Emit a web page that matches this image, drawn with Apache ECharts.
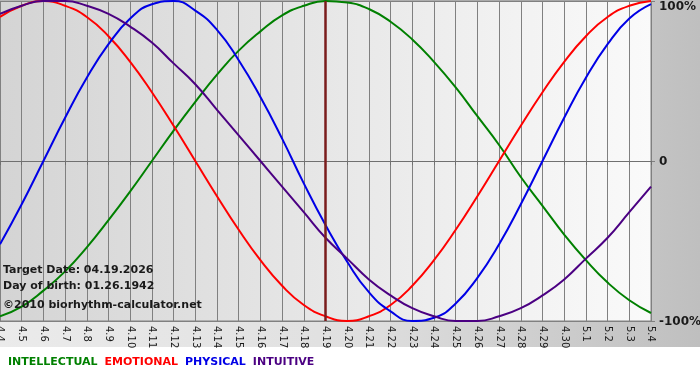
<!DOCTYPE html>
<html>
<head>
<meta charset="utf-8">
<script src="https://cdn.jsdelivr.net/npm/echarts@6/dist/echarts.min.js"></script>
<style>html,body{margin:0;padding:0;background:#fff}#c{width:700px;height:380px}</style>
</head>
<body>
<div id="c"></div>
<script>
const days = ['4.4','4.5','4.6','4.7','4.8','4.9','4.10','4.11','4.12','4.13','4.14','4.15','4.16','4.17','4.18','4.19','4.20','4.21','4.22','4.23','4.24','4.25','4.26','4.27','4.28','4.29','4.30','5.1','5.2','5.3','5.4'];
const intellectual = [-97,-91,-81,-69,-54,-37,-19,0,19,37,54,69,81,91,97,100,99,95,87,76,62,46,28,10,-10,-28,-46,-62,-76,-87,-95];
const emotional = [90,97,100,97,90,78,62,43,22,0,-22,-43,-62,-78,-90,-97,-100,-97,-90,-78,-62,-43,-22,0,22,43,62,78,90,97,100];
const physical = [-52,-27,0,27,52,73,89,98,100,94,82,63,40,14,-14,-40,-63,-82,-94,-100,-98,-89,-73,-52,-27,0,27,52,73,89,98];
const intuitive = [92,97,100,100,97,92,84,74,61,48,32,16,0,-16,-32,-48,-61,-74,-84,-92,-97,-100,-100,-97,-92,-84,-74,-61,-48,-32,-16];
const targetDay = '4.19';
const infoLines = ['Target Date: 04.19.2026','Day of birth: 01.26.1942','©2010 biorhythm-calculator.net'];
const seriesNames = ['INTELLECTUAL','EMOTIONAL','PHYSICAL','INTUITIVE'];
const colors = ['#008000','#ff0000','#0000e6','#4b0082'];

const chart = echarts.init(document.getElementById('c'));
const FONT = '"DejaVu Sans", Verdana, sans-serif';
const mk = (name, data, color) => ({
  name, type: 'line', data, smooth: 0.5, symbol: 'none',
  lineStyle: {color, width: 2}, itemStyle: {color}, z: 3
});
const series = [
  mk(seriesNames[0], intellectual, colors[0]),
  mk(seriesNames[1], emotional, colors[1]),
  mk(seriesNames[2], physical, colors[2]),
  mk(seriesNames[3], intuitive, colors[3])
];
series[3].markLine = {
  silent: true, symbol: 'none', label: {show: false}, z: 10,
  lineStyle: {color: '#7a1c1c', width: 2.5, type: 'solid'},
  data: [{xAxis: targetDay}]
};
chart.setOption({
  animation: false,
  backgroundColor: '#ffffff',
  graphic: [
    {type: 'rect', z: -10, silent: true, shape: {x: 0, y: 0, width: 700, height: 347},
     style: {fill: new echarts.graphic.LinearGradient(0, 0, 1, 0, [
       {offset: 0, color: '#ebebeb'}, {offset: 0.5, color: '#e0e0e0'}, {offset: 1, color: '#bfbfbf'}])}},
    {type: 'text', left: 3, top: 265, z: 20, style: {text: infoLines[0], font: 'bold 11px ' + FONT, fill: '#1a1a1a'}},
    {type: 'text', left: 3, top: 281, z: 20, style: {text: infoLines[1], font: 'bold 11px ' + FONT, fill: '#1a1a1a'}},
    {type: 'text', left: 3, top: 300, z: 20, style: {text: infoLines[2], font: 'bold 11px ' + FONT, fill: '#1a1a1a'}}
  ],
  legend: {
    left: -2, top: 352, icon: 'none', itemWidth: 0, itemHeight: 0, itemGap: 2,
    data: seriesNames.map((n, i) => ({name: n, textStyle: {color: colors[i]}})),
    textStyle: {fontFamily: FONT, fontWeight: 'bold', fontSize: 11}
  },
  grid: {
    left: 0, right: 49, top: 1, bottom: 59, show: true,
    outerBoundsMode: 'none', containLabel: false,
    borderColor: '#808080', borderWidth: 1,
    backgroundColor: new echarts.graphic.LinearGradient(0, 0, 1, 0, [
      {offset: 0, color: '#d4d4d4'}, {offset: 1, color: '#fafafa'}])
  },
  xAxis: {
    type: 'category', data: days, boundaryGap: false,
    axisLine: {lineStyle: {color: '#707070'}},
    axisTick: {show: true, length: 4, alignWithLabel: true, lineStyle: {color: '#707070'}},
    splitLine: {show: true, lineStyle: {color: '#808080', width: 1}},
    axisLabel: {rotate: -90, interval: 0, margin: 5, color: '#1a1a1a', fontFamily: FONT, fontSize: 10, hideOverlap: false}
  },
  yAxis: {
    type: 'value', position: 'right', min: -100, max: 100, interval: 100,
    axisLine: {show: false}, axisTick: {show: true, length: 4, lineStyle: {color: '#808080'}},
    splitLine: {show: true, lineStyle: {color: '#808080', width: 1}},
    axisLabel: {
      margin: 8, color: '#1a1a1a', fontFamily: FONT, fontWeight: 'bold', fontSize: 12,
      formatter: v => v === 100 ? '{t|100%}' : (v === 0 ? '{z|0}' : '{b|-100%}'),
      rich: {
        t: {padding: [12, 0, 0, 0], fontFamily: FONT, fontWeight: 'bold', fontSize: 12, color: '#1a1a1a'},
        z: {padding: [2, 0, 0, 0], fontFamily: FONT, fontWeight: 'bold', fontSize: 12, color: '#1a1a1a'},
        b: {padding: [2, 0, 0, 0], fontFamily: FONT, fontWeight: 'bold', fontSize: 12, color: '#1a1a1a'}
      }
    }
  },
  series
});
</script>
</body>
</html>
